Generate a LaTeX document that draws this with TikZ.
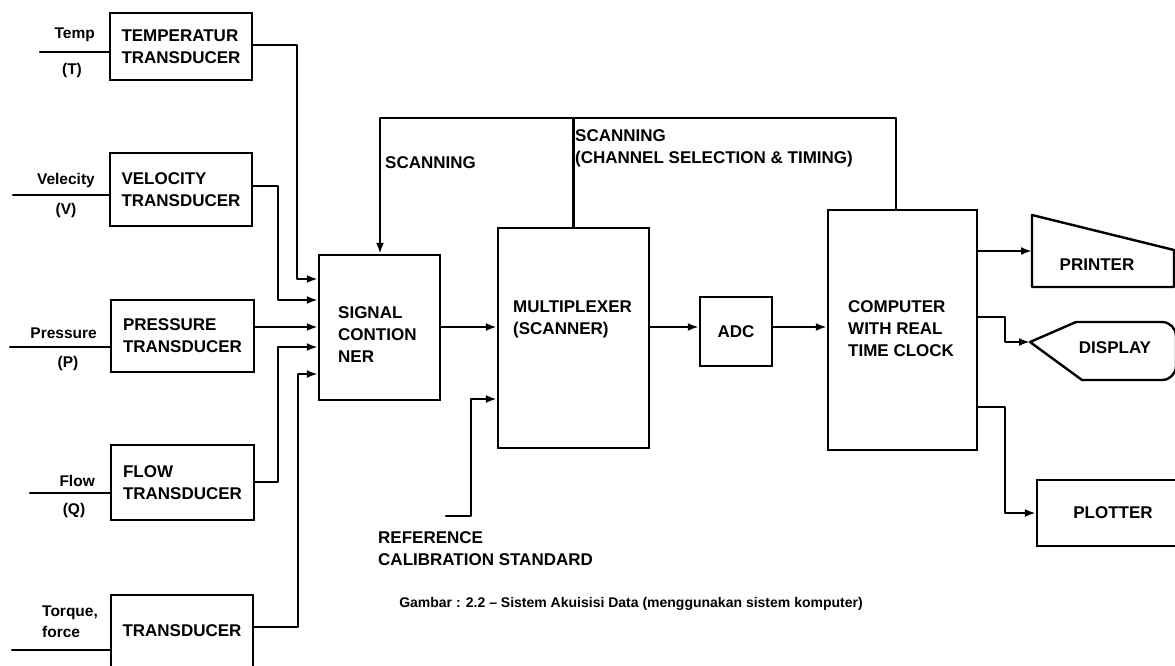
\documentclass[tikz,border=0pt]{standalone}
\usepackage{fontspec}
\setmainfont{Liberation Sans}
\usetikzlibrary{arrows.meta}
\tikzset{
  ln/.style={line width=2.4pt, line cap=round, line join=round},
  arr/.style={ln, -{Latex[length=11pt,width=8pt]}},
  blk/.style={draw, line width=2.4pt, inner sep=0pt, font=\fontsize{17}{22}\selectfont\bfseries, align=left},
  txt/.style={inner sep=0pt, font=\fontsize{17}{22}\selectfont\bfseries, align=left},
  sml/.style={inner sep=0pt, font=\fontsize{15.5}{18}\selectfont\bfseries},
}
\begin{document}
\begin{tikzpicture}[x=1pt,y=-1pt]
\clip (0,0) rectangle (1175,665);
\fill[white] (0,0) rectangle (1175,665);

% transducer boxes
\node[blk, minimum width=142pt, minimum height=67pt] (tT) at (181,46.5) {TEMPERATUR\\TRANSDUCER};
\node[blk, minimum width=142pt, minimum height=73pt] (tV) at (181,189.5) {VELOCITY\\TRANSDUCER};
\node[blk, minimum width=143pt, minimum height=72pt] (tP) at (182.5,336) {PRESSURE\\TRANSDUCER};
\node[blk, minimum width=143pt, minimum height=75pt] (tQ) at (182.5,482.5) {FLOW\\TRANSDUCER};
\node[blk, minimum width=142pt, minimum height=72pt] (tF) at (182,631) {TRANSDUCER};

% input labels
\node[sml, anchor=east] (lT) at (95,35) {Temp};
\node[sml] (lT2) at (72,70) {(T)};
\node[sml, anchor=east] (lV) at (95,180) {Velecity};
\node[sml] (lV2) at (66,210) {(V)};
\node[sml, anchor=east] (lP) at (97,333) {Pressure};
\node[sml] (lP2) at (68,363) {(P)};
\node[sml, anchor=east] (lQ) at (95,481) {Flow};
\node[sml] (lQ2) at (74,510) {(Q)};
\node[sml, anchor=west, align=left, font=\fontsize{15.5}{21}\selectfont\bfseries] (lF) at (42,622) {Torque,\\force};

% input lines
\coordinate (iT) at (40,52);
\coordinate (iV) at (13,195);
\coordinate (iP) at (10,347);
\coordinate (iQ) at (30,493);
\coordinate (iF) at (12,650);
\draw[ln] (iT) -- (iT -| tT.west);
\draw[ln] (iV) -- (iV -| tV.west);
\draw[ln] (iP) -- (iP -| tP.west);
\draw[ln] (iQ) -- (iQ -| tQ.west);
\draw[ln] (iF) -- (iF -| tF.west);

% signal conditioner
\node[blk, minimum width=121pt, minimum height=145pt] (sc) at (379.5,327.5) {};
\node[txt, anchor=west] (scT) at (338,335) {SIGNAL\\CONTION\\NER};

% multiplexer
\node[blk, minimum width=151pt, minimum height=220pt] (mux) at (573.5,338) {};
\node[txt, anchor=west] (muxT) at (513,319) {MULTIPLEXER\\(SCANNER)};

% ADC
\node[blk, minimum width=72pt, minimum height=69pt] (adc) at (736,331.5) {ADC};

% computer
\node[blk, minimum width=149pt, minimum height=240pt] (comp) at (902.5,330) {};
\node[txt, anchor=west] (compT) at (848,328.5) {COMPUTER\\WITH REAL\\TIME CLOCK};

% printer
\draw[ln] (1032,215) -- (1174,250) -- (1174,287) -- (1032,287) -- cycle;
\node[txt] (prn) at (1097,265) {PRINTER};
\coordinate (prnIn) at (1032,251);

% display
\draw[ln] (1030,342) -- (1076,322) [rounded corners=14pt] -- (1176,322) -- (1176,380) [sharp corners] -- (1082,380) -- cycle;
\node[txt] (dsp) at (1115,348) {DISPLAY};
\coordinate (dspIn) at (1030,342);

% plotter
\node[blk, minimum width=160pt, minimum height=66pt] (plt) at (1117,513) {};
\node[txt] (pltT) at (1113,513) {PLOTTER};

% transducer outputs
\draw[arr] (tT.east |- 0,45) -- (297,45) -- (297,279) -- (sc.west |- 0,279);
\draw[arr] (tV.east |- 0,186) -- (278,186) -- (278,300) -- (sc.west |- 0,300);
\draw[arr] (tP.east |- 0,327) -- (sc.west |- 0,327);
\draw[arr] (tQ.east |- 0,482) -- (278,482) -- (278,347) -- (sc.west |- 0,347);
\draw[arr] (tF.east |- 0,627) -- (298,627) -- (298,374) -- (sc.west |- 0,374);

% main chain
\draw[arr] (sc.east |- 0,327) -- (mux.west |- 0,327);
\draw[arr] (mux.east |- 0,327) -- (adc.west |- 0,327);
\draw[arr] (adc.east |- 0,327) -- (comp.west |- 0,327);

% scanning
\draw[arr] (comp.north -| 896,0) -- (896,118) -- (380,118) -- (sc.north -| 380,0);
\draw[ln] (mux.north) -- (mux.north |- 0,118);
\node[txt, anchor=west] (scan1) at (385,163) {SCANNING};
\node[txt, anchor=west] (scan2) at (575,148) {SCANNING\\(CHANNEL SELECTION \& TIMING)};

% reference
\coordinate (refEnd) at (446,516);
\draw[arr] (refEnd) -- (471,516) -- (471,399) -- (mux.west |- 0,399);
\node[txt, anchor=west] (refT) at (378,549) {REFERENCE\\CALIBRATION STANDARD};

% outputs
\draw[arr] (comp.east |- 0,251) -- (prnIn);
\draw[arr] (comp.east |- 0,317) -- (1005,317) -- (1005,342) -- (dspIn);
\draw[arr] (comp.east |- 0,407) -- (1005,407) -- (1005,513) -- (plt.west |- 0,513);

% caption
\node[inner sep=0pt, font=\fontsize{14}{17}\selectfont\bfseries] (cap) at (631,604) {Gambar : 2.2 -- Sistem Akuisisi Data (menggunakan sistem komputer)};
\end{tikzpicture}
\end{document}
